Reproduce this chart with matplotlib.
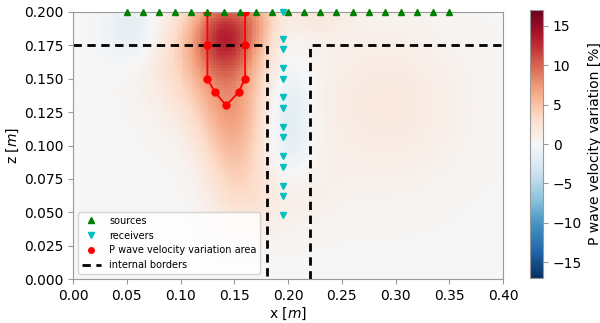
import numpy as np
import matplotlib
matplotlib.use("Agg")
import matplotlib.pyplot as plt
from matplotlib.lines import Line2D

# ---- data ----
src_x = [0.05 + 0.015 * i for i in range(21)]
src_z = [0.2] * 21

rec_z = [0.2, 0.18, 0.172, 0.158, 0.15, 0.136, 0.128, 0.114, 0.106,
         0.092, 0.084, 0.07, 0.062, 0.048]
rec_x = [0.195] * len(rec_z)

area_x = [0.125, 0.125, 0.125, 0.132, 0.1425, 0.154, 0.16, 0.16, 0.16]
area_z = [0.2, 0.175, 0.15, 0.14, 0.13, 0.14, 0.15, 0.175, 0.2]

border_left_x = [0.0, 0.18, 0.18]
border_left_z = [0.175, 0.175, 0.0]
border_right_x = [0.22, 0.22, 0.4]
border_right_z = [0.0, 0.175, 0.175]

# velocity-variation field, described as blobs (x, z, sx, sz, amplitude %)
blob_x = [0.143, 0.128, 0.147, 0.150, 0.158, 0.200, 0.055, 0.290, 0.225, 0.200, 0.172]
blob_z = [0.184, 0.162, 0.125, 0.090, 0.060, 0.120, 0.186, 0.130, 0.195, 0.060, 0.195]
blob_sx = [0.022, 0.036, 0.022, 0.021, 0.022, 0.015, 0.018, 0.055, 0.020, 0.030, 0.012]
blob_sz = [0.022, 0.032, 0.026, 0.026, 0.022, 0.032, 0.016, 0.045, 0.010, 0.020, 0.012]
blob_amp = [9.5, 4.5, 4.0, 2.5, 1.2, -2.8, -2.0, 1.7, 1.5, 1.0, 2.0]

vmin, vmax = -17, 17

# ---- figure ----
fig = plt.figure(figsize=(6.0, 3.23), dpi=100)
ax = fig.add_axes([0.1217, 0.136, 0.7167, 0.827])
cax = fig.add_axes([0.883, 0.139, 0.022, 0.830])

dx = 0.0025
xs = np.arange(0, 0.4, dx) + dx / 2
zs = np.arange(0, 0.2, dx) + dx / 2
X, Z = np.meshgrid(xs, zs)
field = np.zeros_like(X)
for bx, bz, sx, sz, a in zip(blob_x, blob_z, blob_sx, blob_sz, blob_amp):
    field += a * np.exp(-((X - bx) ** 2 / (2 * sx ** 2) + (Z - bz) ** 2 / (2 * sz ** 2)))

im = ax.imshow(field, origin="lower", extent=[0, 0.4, 0, 0.2], cmap="RdBu_r",
               vmin=vmin, vmax=vmax, aspect="auto", interpolation="nearest")

ax.plot(area_x, area_z, "-o", color="red", markersize=5, lw=1.3, zorder=3)
ax.plot(src_x, src_z, "^", color="green", markersize=4, ls="none", zorder=4, clip_on=False)
ax.plot(rec_x, rec_z, "v", color="c", markersize=4, ls="none", zorder=4, clip_on=False)
ax.plot(border_left_x, border_left_z, "--", color="black", lw=2, dashes=(3, 2), zorder=2)
ax.plot(border_right_x, border_right_z, "--", color="black", lw=2, dashes=(3, 2), zorder=2)

ax.set_xlim(0, 0.4)
ax.set_ylim(0, 0.2)
ax.set_xticks(np.arange(0, 0.401, 0.05))
ax.set_yticks(np.arange(0, 0.201, 0.025))
ax.set_xticklabels([f"{v:.2f}" for v in np.arange(0, 0.401, 0.05)])
ax.set_yticklabels([f"{v:.3f}" for v in np.arange(0, 0.201, 0.025)])
ax.set_xlabel("x [$m$]", labelpad=2)
ax.set_ylabel("z [$m$]", labelpad=2)
for s in ax.spines.values():
    s.set_color("#999999")
ax.tick_params(color="#999999")

handles = [
    Line2D([], [], marker="^", color="green", ls="none", markersize=4),
    Line2D([], [], marker="v", color="c", ls="none", markersize=4),
    Line2D([], [], marker="o", color="red", ls="none", markersize=4),
    Line2D([], [], color="black", ls="--", lw=2, dashes=(3, 2)),
]
labels = ["sources", "receivers", "P wave velocity variation area", "internal borders"]
ax.legend(handles, labels, loc="lower left", fontsize=7, framealpha=0.8)

cb = fig.colorbar(im, cax=cax)
cb.set_ticks([-15, -10, -5, 0, 5, 10, 15])
cb.set_label("P wave velocity variation [%]")
cb.outline.set_edgecolor("#999999")
cax.tick_params(color="#999999")

fig.savefig("out.png", dpi=100)
